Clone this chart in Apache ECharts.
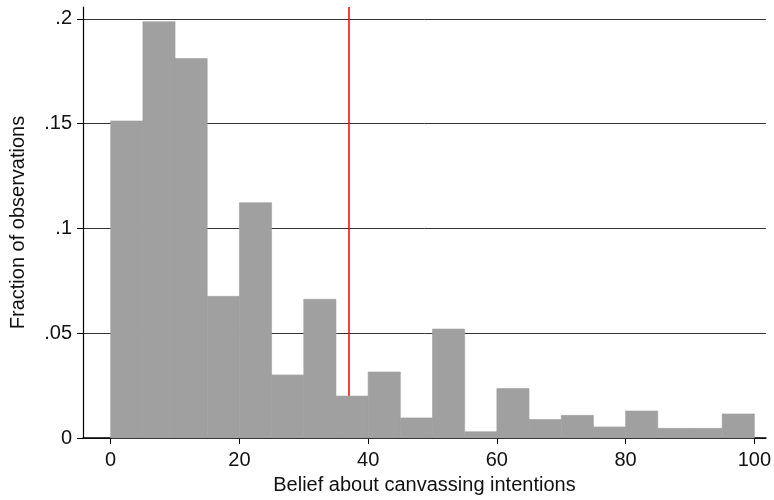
<!DOCTYPE html>
<html>
<head>
<meta charset="utf-8">
<script src="https://cdn.jsdelivr.net/npm/echarts@6/dist/echarts.min.js"></script>
<style>html,body{margin:0;padding:0;background:#fff}#c{width:774px;height:500px}</style>
</head>
<body>
<div id="c"></div>
<script>
// Histogram bins (start of each bin, width 5)
const binStarts = [0,5,10,15,20,25,30,35,40,45,50,55,60,65,70,75,80,85,90,95];
const binWidth = 5;
const fractions = [0.1513,0.1987,0.1811,0.0676,0.1123,0.0301,0.0662,0.0200,0.0315,0.0096,0.0520,0.0030,0.0236,0.0088,0.0108,0.0053,0.0129,0.0046,0.0046,0.0115];
const xTicks = [0,20,40,60,80,100];
const yTicks = [0,0.05,0.1,0.15,0.2];
const refLine = 37;

const chart = echarts.init(document.getElementById('c'), null, {renderer:'canvas'});
const font = 'Liberation Sans, Arial, Helvetica, sans-serif';
const data = binStarts.map((s,i)=>[s, s+binWidth, fractions[i]]);

chart.setOption({
  animation:false,
  grid:{left:82,right:6,top:7,bottom:62,containLabel:false},
  xAxis:{
    type:'value', min:-4.3, max:101.8,
    name:'Belief about canvassing intentions', nameLocation:'middle', nameGap:37,
    nameTextStyle:{fontFamily:font,fontSize:20,color:'#111'},
    axisLine:{show:true,onZero:false,lineStyle:{color:'#000',width:1.5}},
    axisTick:{show:true,length:6,customValues:xTicks,lineStyle:{color:'#000'}},
    axisLabel:{customValues:xTicks,margin:12,fontFamily:font,fontSize:20,color:'#111'},
    splitLine:{show:false}
  },
  yAxis:{
    type:'value', min:0, max:0.2057,
    name:'Fraction of observations', nameLocation:'middle', nameGap:55, nameRotate:90,
    nameTextStyle:{fontFamily:font,fontSize:20,color:'#111'},
    axisLine:{show:true,onZero:false,lineStyle:{color:'#000',width:1.2}},
    axisTick:{show:true,length:6,customValues:yTicks,lineStyle:{color:'#000'}},
    axisLabel:{customValues:yTicks,margin:11,fontFamily:font,fontSize:20,color:'#111',
      formatter:v=> v===0 ? '0' : String(+v.toFixed(2)).replace(/^0/,'')},
    splitLine:{show:true,lineStyle:{color:'#333',width:1}}
  },
  series:[
    {
      type:'line', data:[], z:1, silent:true,
      markLine:{z:1,symbol:'none',silent:true,label:{show:false},
        lineStyle:{color:'#ff0000',width:1.5,type:'solid'},
        data:[{xAxis:refLine}]}
    },
    {
      type:'custom', z:3,
      renderItem:function(params,api){
        const p0 = api.coord([api.value(0), api.value(2)]);
        const p1 = api.coord([api.value(1), 0]);
        return {type:'rect',
          shape:{x:p0[0],y:p0[1],width:p1[0]-p0[0],height:p1[1]-p0[1]},
          style:{fill:'#a0a0a0',stroke:'#a0a0a0',lineWidth:0.6}};
      },
      encode:{x:[0,1],y:2},
      data:data
    }
  ]
});
</script>
</body>
</html>
